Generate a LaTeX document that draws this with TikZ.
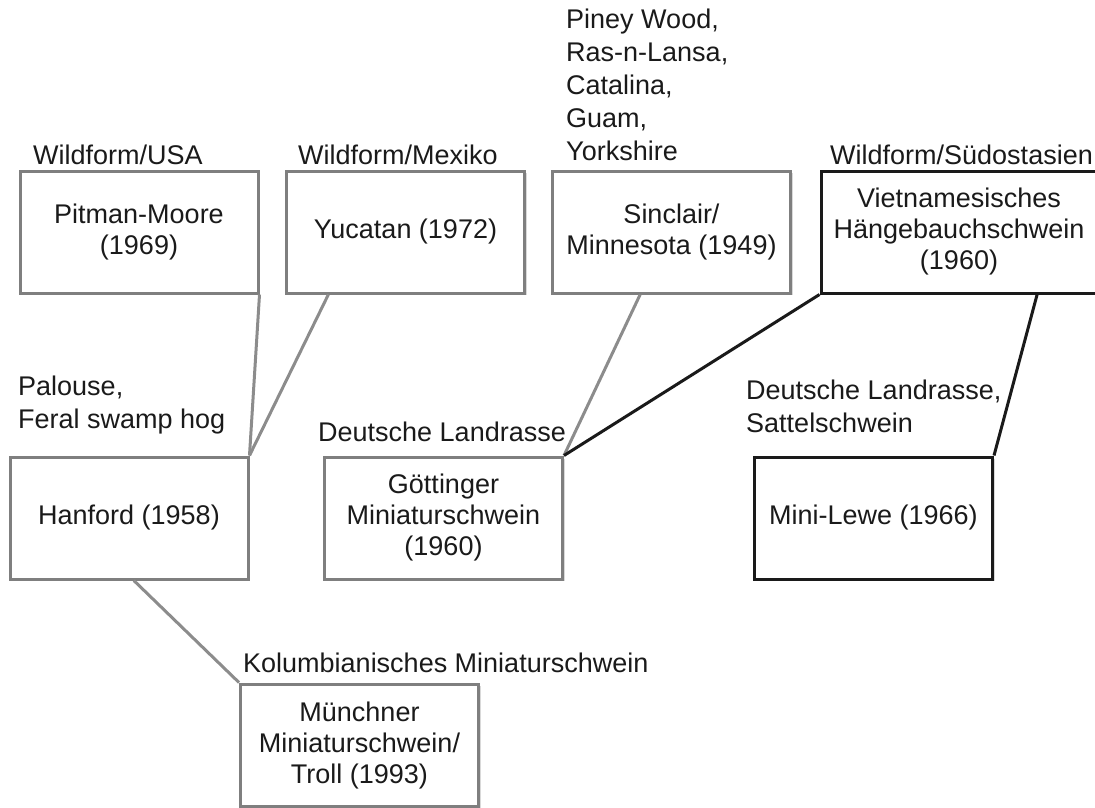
\documentclass[tikz,border=0pt]{standalone}
\usepackage{fontspec}
\setmainfont{Liberation Sans}
\usetikzlibrary{calc,shadows,positioning}
\definecolor{boxgray}{HTML}{7F7F7F}
\definecolor{linkgray}{HTML}{8C8C8C}
\definecolor{inkblack}{HTML}{1A1A1A}

\begin{document}
\begin{tikzpicture}[x=1pt, y=-1pt,
  every node/.style={text=inkblack},
  breed/.style={draw=boxgray, line width=3pt, fill=white, align=center,
    minimum width=238pt, minimum height=122pt, inner sep=0pt,
    font=\fontsize{27}{31}\selectfont,
    drop shadow={shadow xshift=2pt, shadow yshift=-2pt, opacity=0.3}},
  breedbold/.style={breed, draw=inkblack},
  origin/.style={anchor=base west, align=left, inner sep=0pt,
    font=\fontsize{27}{33}\selectfont},
  link/.style={linkgray, line width=3pt},
  linkbold/.style={inkblack, line width=3pt}]
  \useasboundingbox (0,0) rectangle (1095,807);

  % ── Founder lines (top row) ──
  \node[breed] (pitman) at (139, 232) {Pitman-Moore\\(1969)};
  \node[breed] (yucatan) at (405.5, 232) {Yucatan (1972)};
  \node[breed] (sinclair) at (671.5, 232) {Sinclair/\\Minnesota (1949)};
  \node[breedbold, minimum width=276pt] (vietnam) at (959, 232)
    {Vietnamesisches\\Hängebauchschwein\\(1960)};

  % ── Derived lines (middle row) ──
  \node[breed] (hanford) at (129, 518) {Hanford (1958)};
  \node[breed] (goettingen) at (443.5, 518) {Göttinger\\Miniaturschwein\\(1960)};
  \node[breedbold] (minilewe) at (873.5, 518) {Mini-Lewe (1966)};

  % ── Bottom row ──
  \node[breed] (muenchen) at (359.5, 745) {Münchner\\Miniaturschwein/\\Troll (1993)};

  % Crossed-in breeds (base = last line)
  \node[origin] (wildusa) at (33, 164) {Wildform/USA};
  \node[origin] (wildmex) at (298, 164) {Wildform/Mexiko};
  \node[origin] (pineywood) at (566, 160)
    {Piney Wood,\\Ras-n-Lansa,\\Catalina,\\Guam,\\Yorkshire};
  \node[origin] (wildasia) at (830, 164) {Wildform/Südostasien};
  \node[origin] (palouse) at (18, 428) {Palouse,\\Feral swamp hog};
  \node[origin] (landrasse) at (318, 441) {Deutsche Landrasse};
  \node[origin] (sattel) at (746, 432) {Deutsche Landrasse,\\Sattelschwein};
  \node[origin] (kolumbia) at (243, 672) {Kolumbianisches Miniaturschwein};

  % Lineage links
  \draw[link] (pitman.south east) -- (hanford.north east);
  \draw[link] ($(yucatan.south west)!0.18!(yucatan.south east)$) -- (hanford.north east);
  \draw[link] ($(sinclair.south west)!0.37!(sinclair.south east)$) -- (goettingen.north east);
  \draw[linkbold] (vietnam.south west) -- (goettingen.north east);
  \draw[linkbold] ($(vietnam.south west)!0.78!(vietnam.south east)$) -- (minilewe.north east);
  \draw[link] ($(hanford.south west)!0.52!(hanford.south east)$) -- (muenchen.north west);

\end{tikzpicture}
\end{document}
